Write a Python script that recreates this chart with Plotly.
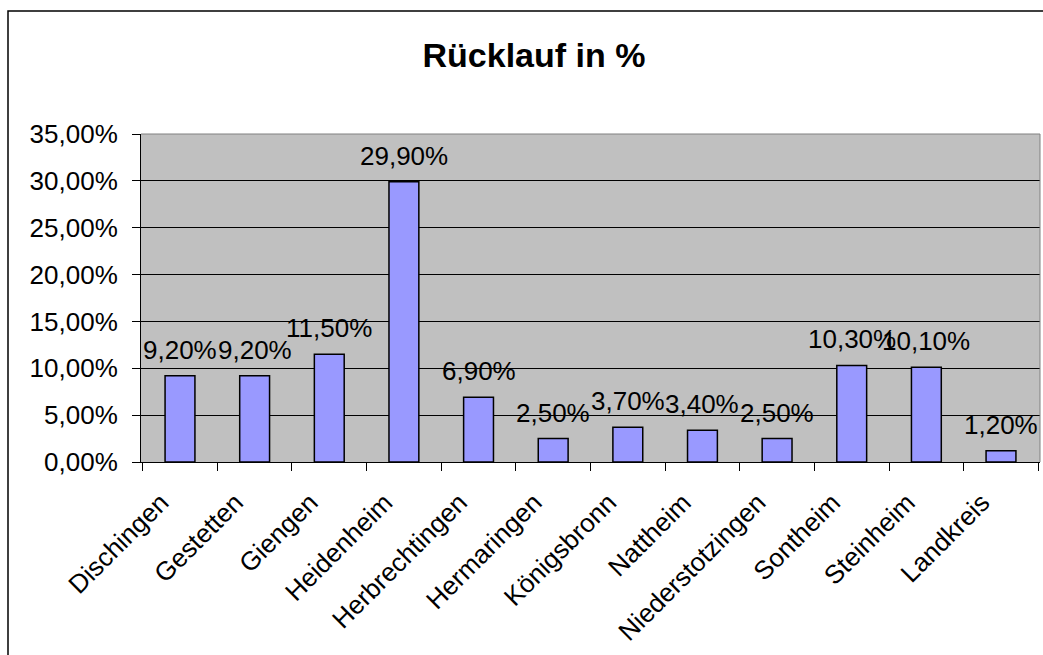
import plotly.graph_objects as go

# Rücklaufquote je Gemeinde im Landkreis Heidenheim
gemeinden = ["Dischingen", "Gestetten", "Giengen", "Heidenheim", "Herbrechtingen",
             "Hermaringen", "Königsbronn", "Nattheim", "Niederstotzingen",
             "Sontheim", "Steinheim", "Landkreis"]
ruecklauf = [0.092, 0.092, 0.115, 0.299, 0.069, 0.025, 0.037, 0.034, 0.025,
             0.103, 0.101, 0.012]
y_ticks = [0, 0.05, 0.10, 0.15, 0.20, 0.25, 0.30, 0.35]

W, H = 1043, 655
L, R, T, B = 141, 3, 134, 193
pw, ph = W - L - R, H - T - B

FONT = "Liberation Sans, Arial, sans-serif"
FS = 26

fig = go.Figure(
    go.Bar(
        x=gemeinden,
        y=ruecklauf,
        width=0.4,
        marker=dict(color="#9999FF", line=dict(color="black", width=1.5)),
        cliponaxis=False,
    )
)

# value labels above each bar
for g, v in zip(gemeinden, ruecklauf):
    fig.add_annotation(
        x=g, y=v, xref="x", yref="y",
        text=f"{v * 100:.2f}%".replace(".", ","),
        showarrow=False, yanchor="bottom", xanchor="center",
        yshift=9,
        font=dict(family=FONT, size=FS, color="black"),
    )

# outer chart frame (left and top edges visible)
fig.add_shape(
    type="rect", xref="paper", yref="paper",
    x0=(8 - L) / pw, x1=(W + 40 - L) / pw,
    y0=-(H + 40 - (H - B)) / ph, y1=((H - B) - 11) / ph,
    line=dict(color="black", width=1.5), fillcolor="rgba(0,0,0,0)", layer="below",
)

fig.update_layout(
    width=W, height=H,
    margin=dict(l=L, r=R, t=T, b=B, autoexpand=False),
    paper_bgcolor="white",
    plot_bgcolor="#C0C0C0",
    separators=",.",
    showlegend=False,
    font=dict(family=FONT, size=FS, color="black"),
    title=dict(
        text="<b>Rücklauf in %</b>",
        font=dict(family=FONT, size=34, color="black"),
        xref="paper", x=(534 - L) / pw, xanchor="center",
        yref="container", y=1 - 55 / H, yanchor="middle",
    ),
    bargap=0.6,
)

fig.update_xaxes(
    type="category",
    tickangle=-45,
    tickson="boundaries",
    ticks="outside", ticklen=8, tickcolor="black", tickwidth=1,
    showline=True, linecolor="black", linewidth=1,
    showgrid=False,
    tickfont=dict(family=FONT, size=FS, color="black"),
    ticklabelstandoff=14,
    ticklabelshift=-19,
)

fig.update_yaxes(
    range=[0, 0.35],
    tickvals=y_ticks,
    tickformat=".2%",
    ticks="outside", ticklen=8, tickcolor="black", tickwidth=1,
    showline=True, linecolor="black", linewidth=1,
    showgrid=True, gridcolor="black", gridwidth=1,
    zeroline=False,
    tickfont=dict(family=FONT, size=FS, color="black"),
    ticklabelstandoff=9,
)

# plot area outline on top and right in grey
fig.add_shape(type="line", xref="paper", yref="paper", x0=0, x1=1, y0=1, y1=1,
              line=dict(color="#808080", width=1))
fig.add_shape(type="line", xref="paper", yref="paper", x0=1, x1=1, y0=0, y1=1,
              line=dict(color="#808080", width=1))

fig.write_html("out.html")
